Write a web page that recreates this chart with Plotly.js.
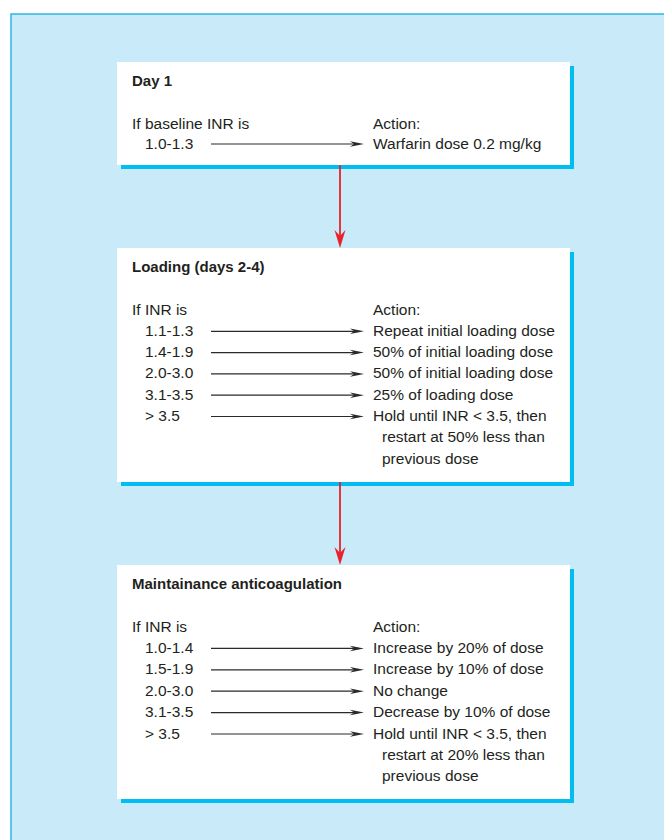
<!DOCTYPE html>
<html>
<head>
<meta charset="utf-8">
<script src="https://cdn.plot.ly/plotly-3.0.1.min.js"></script>
<style>html,body{margin:0;padding:0;background:#fff;}#chart{width:664px;height:840px;}</style>
</head>
<body>
<div id="chart"></div>
<script>
// ---- data ----
const stageTitles = ["Day 1", "Loading (days 2-4)", "Maintainance anticoagulation"];
const conditionHeaders = ["If baseline INR is", "If INR is", "If INR is"];
const actionHeader = "Action:";

const day1Ranges = ["1.0-1.3"];
const day1Actions = [["Warfarin dose 0.2 mg/kg"]];

const loadingRanges = ["1.1-1.3", "1.4-1.9", "2.0-3.0", "3.1-3.5", "&gt; 3.5"];
const loadingActions = [
  ["Repeat initial loading dose"],
  ["50% of initial loading dose"],
  ["50% of initial loading dose"],
  ["25% of loading dose"],
  ["Hold until INR &lt; 3.5, then", "restart at 50% less than", "previous dose"]
];

const maintRanges = ["1.0-1.4", "1.5-1.9", "2.0-3.0", "3.1-3.5", "&gt; 3.5"];
const maintActions = [
  ["Increase by 20% of dose"],
  ["Increase by 10% of dose"],
  ["No change"],
  ["Decrease by 10% of dose"],
  ["Hold until INR &lt; 3.5, then", "restart at 20% less than", "previous dose"]
];

const stageRanges = [day1Ranges, loadingRanges, maintRanges];
const stageActions = [day1Actions, loadingActions, maintActions];

// ---- layout (pixel space) ----
const W = 664, H = 840;
const boxLeft = 117, boxRight = 570;
const boxTops = [62, 248, 565];
const boxBottoms = [165, 482, 799];
const lineSteps = [20, 21.3, 21.4];
const shadow = 4;
const xHeader = 133, xRange = 146, xArrow0 = 211, xArrow1 = 364, xAction = 374, xCont = 383;
const xFlow = 340;

const fontFam = "'Liberation Sans', Arial, Helvetica, sans-serif";
const txtColor = "#231f20";

const shapes = [];
const annotations = [];

function headPath(tipX, tipY, dir, len, wid, notch) {
  // dir: 'right' or 'down'
  if (dir === 'right') {
    return `M${tipX},${tipY} L${tipX-len},${tipY-wid/2} L${tipX-len+notch},${tipY} L${tipX-len},${tipY+wid/2} Z`;
  }
  return `M${tipX},${tipY} L${tipX-wid/2},${tipY-len} L${tipX},${tipY-len+notch} L${tipX+wid/2},${tipY-len} Z`;
}

// outer frame
shapes.push({type:'rect', xref:'x', yref:'y', x0:11, y0:14, x1:W+20, y1:H+20,
  fillcolor:'#c8eaf9', line:{color:'#2cb5e8', width:1.5}, layer:'below'});

stageTitles.forEach((title, i) => {
  const top = boxTops[i], bot = boxBottoms[i];
  shapes.push({type:'rect', xref:'x', yref:'y', x0:boxLeft+shadow, y0:top+shadow, x1:boxRight+shadow, y1:bot+shadow,
    fillcolor:'#00bdf2', line:{width:0}, layer:'below'});
  shapes.push({type:'rect', xref:'x', yref:'y', x0:boxLeft, y0:top, x1:boxRight, y1:bot,
    fillcolor:'#ffffff', line:{width:0}, layer:'below'});

  const base = {xref:'x', yref:'y', showarrow:false, xanchor:'left', yanchor:'middle',
    font:{family:fontFam, size:15.5, color:txtColor}};

  annotations.push(Object.assign({}, base, {x:xHeader-3, y:top+18, text:'<b>'+title+'</b>',
    font:{family:fontFam, size:15, color:txtColor}}));
  const hy = top + 61;
  const step = lineSteps[i];
  annotations.push(Object.assign({}, base, {x:xHeader-3, y:hy, text:conditionHeaders[i]}));
  annotations.push(Object.assign({}, base, {x:xAction-3, y:hy, text:actionHeader}));

  stageRanges[i].forEach((r, j) => {
    const y = hy + step*(j+1);
    annotations.push(Object.assign({}, base, {x:xRange-3, y:y, text:r}));
    stageActions[i][j].forEach((line, k) => {
      annotations.push(Object.assign({}, base, {x:(k===0?xAction:xCont)-3, y:y+step*k, text:line}));
    });
    const ya = y + 1;
    shapes.push({type:'line', xref:'x', yref:'y', x0:xArrow0, y0:ya, x1:xArrow1-6, y1:ya,
      line:{color:'#2a2a2a', width:1.2}});
    shapes.push({type:'path', xref:'x', yref:'y', path:headPath(xArrow1, ya, 'right', 14, 5.5, 4),
      fillcolor:'#2a2a2a', line:{width:0}});
  });

  if (i < stageTitles.length - 1) {
    const tipY = boxTops[i+1];
    shapes.push({type:'line', xref:'x', yref:'y', x0:xFlow, y0:bot, x1:xFlow, y1:tipY-8,
      line:{color:'#e8212a', width:1.8}});
    shapes.push({type:'path', xref:'x', yref:'y', path:headPath(xFlow, tipY, 'down', 18, 11, 6),
      fillcolor:'#e8212a', line:{width:0}});
  }
});

const layout = {
  width:W, height:H,
  margin:{l:0, r:0, t:0, b:0},
  paper_bgcolor:'#ffffff', plot_bgcolor:'#ffffff',
  xaxis:{range:[0, W], visible:false, fixedrange:true},
  yaxis:{range:[H, 0], visible:false, fixedrange:true},
  showlegend:false,
  shapes:shapes,
  annotations:annotations
};

Plotly.newPlot('chart', [], layout, {staticPlot:true, displayModeBar:false});
</script>
</body>
</html>
